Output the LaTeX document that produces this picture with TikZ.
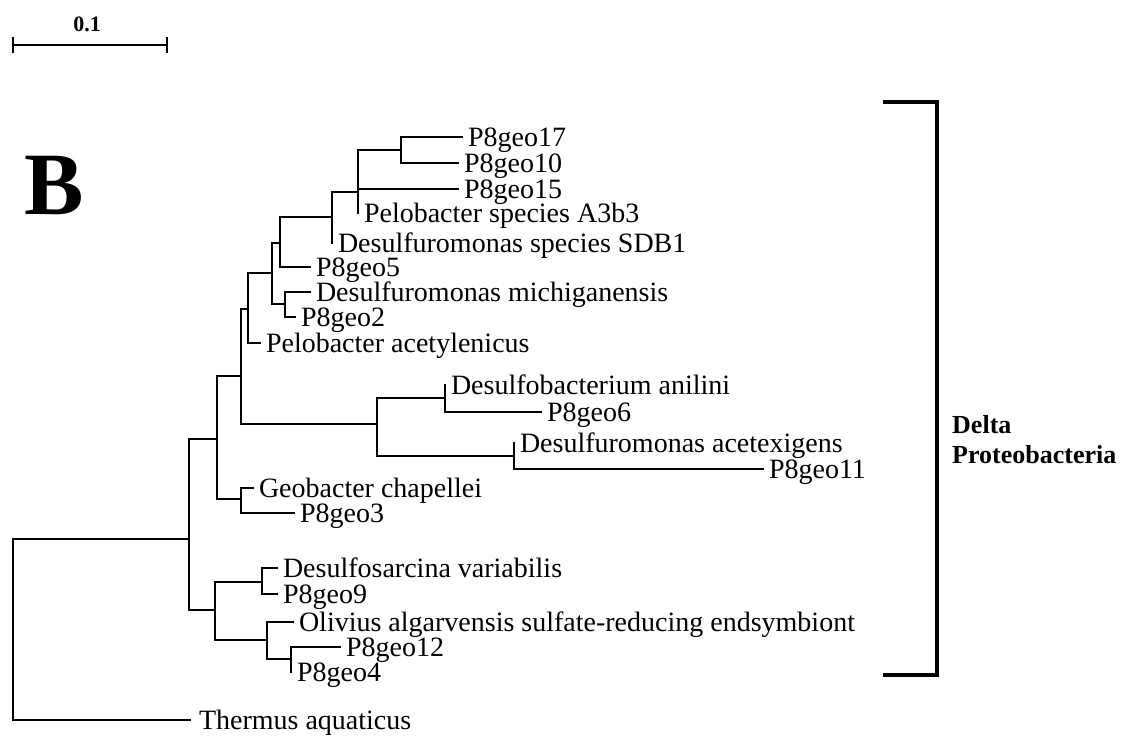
\documentclass[tikz,border=0pt]{standalone}
\usepackage{fontspec}
\setmainfont{Liberation Serif}
\begin{document}
\begin{tikzpicture}[x=1pt,y=-1pt,
  branch/.style={line width=1.6pt, line cap=rect},
  lab/.style={anchor=west, inner xsep=6pt, inner ysep=0pt, outer sep=0pt,
    text height=18.5pt, text depth=0pt, font=\fontsize{28}{30}\selectfont},
  bracketline/.style={line width=3.5pt, line join=miter},
  scaleline/.style={line width=2pt}]
\useasboundingbox (0,0) rectangle (1124,738);

% ---------- scale bar ----------
\coordinate (sL) at (13,45);
\coordinate (sR) at (167,45);
\coordinate (sLt) at (13,37);
\coordinate (sLb) at (13,53);
\coordinate (sRt) at (167,37);
\coordinate (sRb) at (167,53);
\draw[scaleline] (sL) -- (sR);
\draw[scaleline] (sLt) -- (sLb);
\draw[scaleline] (sRt) -- (sRb);
\node[font=\bfseries\fontsize{22}{22}\selectfont, anchor=base, inner sep=0pt] (scaletext) at (87,32) {0.1};

% ---------- panel letter ----------
\node[font=\bfseries\fontsize{89}{89}\selectfont, inner sep=0pt] (panelB) at (54,185) {B};

% ---------- internal nodes ----------
\coordinate (root) at (13,539);
\coordinate (L) at (189,539);
\coordinate (P) at (217,439);
\coordinate (H) at (241,376);
\coordinate (G) at (248,309);
\coordinate (E) at (272,273);
\coordinate (D) at (280,243);
\coordinate (C) at (332,217);
\coordinate (B) at (358,192);
\coordinate (A) at (401,150);
\coordinate (F) at (285,304);
\coordinate (I) at (377,424);
\coordinate (J) at (445,398);
\coordinate (K) at (514,456);
\coordinate (M) at (241,499);
\coordinate (N) at (215,610);
\coordinate (O) at (262,582);
\coordinate (Q) at (267,640);
\coordinate (R) at (291,659);

% ---------- leaves ----------
\node[lab] (l17)  at (462,137) {P8geo17};
\node[lab] (l10)  at (458,163) {P8geo10};
\node[lab] (l15)  at (458,189) {P8geo15};
\node[lab] (lA3)  at (358,213) {Pelobacter species A3b3};
\node[lab] (lSDB) at (332,243) {Desulfuromonas species SDB1};
\node[lab] (l5)   at (310,267) {P8geo5};
\node[lab] (lmic) at (310,292) {Desulfuromonas michiganensis};
\node[lab] (l2)   at (295,317) {P8geo2};
\node[lab] (lace) at (260,343) {Pelobacter acetylenicus};
\node[lab] (lani) at (445,385) {Desulfobacterium anilini};
\node[lab] (l6)   at (541,412) {P8geo6};
\node[lab] (lacx) at (514,443) {Desulfuromonas acetexigens};
\node[lab] (l11)  at (763,469) {P8geo11};
\node[lab] (lgeo) at (253,488) {Geobacter chapellei};
\node[lab] (l3)   at (294,513) {P8geo3};
\node[lab] (lsar) at (277,568) {Desulfosarcina variabilis};
\node[lab] (l9)   at (277,594) {P8geo9};
\node[lab] (loli) at (293,622) {Olivius algarvensis sulfate-reducing endsymbiont};
\node[lab] (l12)  at (340,647) {P8geo12};
\node[lab] (l4)   at (291,672) {P8geo4};
\node[lab, inner xsep=9pt] (lthe) at (190,720) {Thermus aquaticus};

% ---------- branches ----------
\draw[branch] (root) -- (L);
\draw[branch] (root) |- (lthe.west);
\draw[branch] (L) |- (P);
\draw[branch] (L) |- (N);
\draw[branch] (P) |- (H);
\draw[branch] (P) |- (M);
\draw[branch] (H) |- (G);
\draw[branch] (H) |- (I);
\draw[branch] (G) |- (E);
\draw[branch] (G) |- (lace.west);
\draw[branch] (E) |- (D);
\draw[branch] (E) |- (F);
\draw[branch] (D) |- (C);
\draw[branch] (D) |- (l5.west);
\draw[branch] (C) |- (B);
\draw[branch] (C) |- (lSDB.west);
\draw[branch] (B) |- (A);
\draw[branch] (B) |- (l15.west);
\draw[branch] (B) |- (lA3.west);
\draw[branch] (A) |- (l17.west);
\draw[branch] (A) |- (l10.west);
\draw[branch] (F) |- (lmic.west);
\draw[branch] (F) |- (l2.west);
\draw[branch] (I) |- (J);
\draw[branch] (I) |- (K);
\draw[branch] (J) |- (lani.west);
\draw[branch] (J) |- (l6.west);
\draw[branch] (K) |- (lacx.west);
\draw[branch] (K) |- (l11.west);
\draw[branch] (M) |- (lgeo.west);
\draw[branch] (M) |- (l3.west);
\draw[branch] (N) |- (O);
\draw[branch] (N) |- (Q);
\draw[branch] (O) |- (lsar.west);
\draw[branch] (O) |- (l9.west);
\draw[branch] (Q) |- (loli.west);
\draw[branch] (Q) |- (R);
\draw[branch] (R) |- (l12.west);
\draw[branch] (R) |- (l4.west);

% ---------- clade bracket ----------
\coordinate (bTL) at (883,102);
\coordinate (bBR) at (937,675);
\coordinate (bBL) at (883,675);
\draw[bracketline] (bTL) -| (bBR) -- (bBL);
\node[font=\bfseries\fontsize{26}{30}\selectfont, anchor=base west, inner sep=0pt] (delta) at (952,433) {Delta};
\node[font=\bfseries\fontsize{26}{30}\selectfont, anchor=base west, inner sep=0pt] (proteo) at (952,463) {Proteobacteria};
\end{tikzpicture}
\end{document}
